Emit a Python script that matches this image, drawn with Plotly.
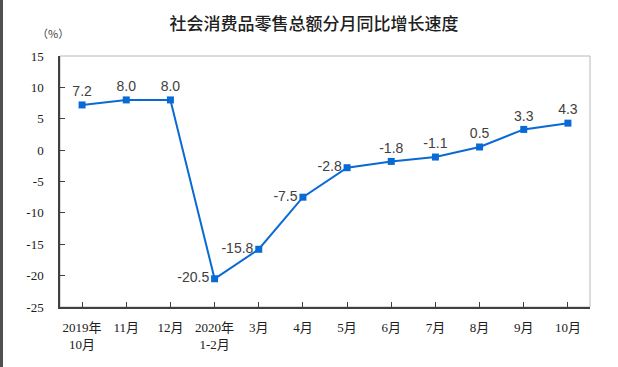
import plotly.graph_objects as go

categories = ["2019年<br>10月", "11月", "12月", "2020年<br>1-2月", "3月", "4月",
              "5月", "6月", "7月", "8月", "9月", "10月"]
values = [7.2, 8.0, 8.0, -20.5, -15.8, -7.5, -2.8, -1.8, -1.1, 0.5, 3.3, 4.3]
labels = ["7.2", "8.0", "8.0", "-20.5", "-15.8", "-7.5", "-2.8", "-1.8", "-1.1", "0.5", "3.3", "4.3"]
label_pos = ["top center", "top center", "top center", "middle left", "middle left",
             "middle left", "middle left", "top center", "top center", "top center",
             "top center", "top center"]
y_ticks = [-25, -20, -15, -10, -5, 0, 5, 10, 15]

x = list(range(len(categories)))

fig = go.Figure()
fig.add_trace(go.Scatter(
    x=x, y=values, mode="lines+markers+text",
    text=labels, textposition=label_pos,
    textfont=dict(family="Liberation Sans, Arial", size=14, color="#404040"),
    line=dict(color="#0a6ad4", width=2),
    marker=dict(symbol="square", size=7, color="#0a6ad4"),
    cliponaxis=False, hoverinfo="skip",
))

fig.update_layout(
    width=618, height=367,
    margin=dict(l=60, r=28, t=56, b=60),
    paper_bgcolor="white", plot_bgcolor="white",
    showlegend=False,
    title=dict(text="社会消费品零售总额分月同比增长速度", x=314/618, xanchor="center",
               y=1 - 24/367, yanchor="middle",
               font=dict(family="Noto Sans CJK SC", size=17, color="#202020", weight=500)),
    annotations=[dict(text="（%）", xref="paper", yref="paper",
                      x=(53 - 60) / 530, y=1 + (56 - 33) / 251, xanchor="center", yanchor="middle",
                      showarrow=False,
                      font=dict(family="Noto Sans CJK SC", size=11, color="#404040"))],
    shapes=[
        dict(type="rect", xref="paper", yref="paper", x0=0, x1=1, y0=0, y1=1,
             line=dict(color="#b8b8b8", width=1), layer="below"),
        dict(type="line", xref="paper", yref="paper", x0=(1.5 - 60) / 530, x1=(1.5 - 60) / 530,
             y0=-60 / 251, y1=1 + 56 / 251, line=dict(color="#505050", width=3)),
    ],
)

fig.update_xaxes(
    range=[-0.5, 11.5], tickmode="array", tickvals=x, ticktext=categories,
    tickson="boundaries", ticks="inside", ticklen=5, tickcolor="#404040",
    showline=True, linecolor="#404040", linewidth=1.5, showgrid=False, zeroline=False,
    ticklabelstandoff=8, automargin=False,
    tickfont=dict(family="Liberation Serif, Noto Sans CJK SC", size=13, color="#202020"),
    fixedrange=True,
)
fig.update_yaxes(
    range=[-25, 15], tickmode="array", tickvals=y_ticks, ticktext=[str(v) for v in y_ticks],
    ticks="inside", ticklen=5, tickcolor="#404040",
    showline=True, linecolor="#404040", linewidth=1.5, showgrid=False, zeroline=False,
    ticklabelstandoff=12, automargin=False,
    tickfont=dict(family="Liberation Serif", size=13, color="#202020"),
    fixedrange=True,
)

fig.write_html("out.html", config={"displayModeBar": False},
               post_script="document.body.style.margin='0';document.body.style.overflow='hidden';")
